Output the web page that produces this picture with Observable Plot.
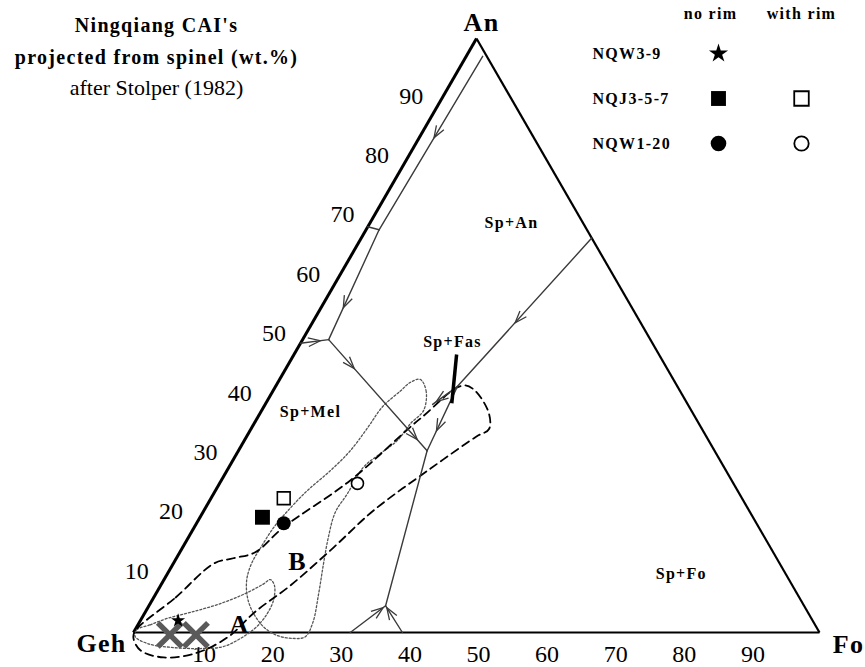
<!DOCTYPE html>
<html>
<head>
<meta charset="utf-8">
<script src="https://cdn.jsdelivr.net/npm/d3@7"></script>
<script src="https://cdn.jsdelivr.net/npm/@observablehq/plot@0.6"></script>
<style>
  body { margin: 0; background: #fff; }
  #chart svg { display: block; }
  g[font-weight="bold"] text { letter-spacing: 1.3px; }
</style>
</head>
<body>
<div id="chart"></div>
<script>
// Ternary compositions are written as [Fo, An] in wt.%; Geh = 100 - Fo - An.
const vertexNames = ["Geh", "Fo", "An"];
const vertices = [[0, 0], [100, 0], [0, 100]];
const tickValues = [10, 20, 30, 40, 50, 60, 70, 80, 90];

// Liquidus field boundaries (Stolper 1982), each from start to end point
const boundaries = [
  [[2.4, 97.0], [1.9, 67.8]],
  [[1.9, 67.8], [0, 68.3]],
  [[1.9, 67.8], [3.8, 49.3]],
  [[0, 48.7], [3.8, 49.3]],
  [[3.8, 49.3], [27.5, 30.6]],
  [[26.5, 41.4], [27.5, 30.6]],
  [[33.6, 66.4], [26.5, 41.4]],
  [[26.5, 41.4], [24.4, 38.4]],
  [[34.5, 4.5], [27.5, 30.6]],
  [[31.6, 0], [34.5, 4.5]],
  [[39.2, 0], [34.5, 4.5]]
];
// Falling-temperature arrows: [boundary index, fraction along it]
const arrowMarks = [[0, 0.47], [2, 0.71], [3, 0.7], [4, 0.26], [4, 0.9], [5, 0.69], [6, 0.57], [7, 0.85], [9, 0.93], [10, 0.93]];

// Fassaite reaction bar
const fasBar = [[23.7, 46.8], [27.1, 38.6]];

// Dashed field of CAI bulk compositions
const dashedField = [
  [0.1, 0.2], [3.2, 5.9], [5.9, 11.6], [8.3, 12.5], [11.0, 13.5], [13.0, 17.7], [18.8, 25.6],
  [23.8, 36.0], [27.6, 41.6], [32.7, 37.7], [34.7, 34.3], [33.5, 33.0], [29.5, 27.6], [24.7, 20.5],
  [22.0, 14.3], [18.9, 7.9], [16.0, 3.5], [14.2, -0.7], [11.0, -3.4], [6.5, -4.2], [2.5, -3.0], [0.5, -1.0]
];
// Dotted field B
const dottedB = [
  [20.5, 42.6], [22.3, 40.7], [23.6, 37.4], [22.8, 35.2], [22.3, 32.3], [20.9, 30.1], [19.6, 27.8],
  [19.5, 23.4], [19.3, 20.2], [20.4, 16.0], [21.9, 11.6], [23.7, 6.6], [25.3, 1.7], [25.4, -0.7],
  [23.7, -1.0], [21.2, -0.5], [18.7, 0.8], [16.1, 3.0], [13.8, 5.7], [12.1, 8.8], [11.4, 11.6],
  [11.4, 14.3], [11.6, 17.7], [12.4, 21.0], [13.4, 23.9], [15.1, 27.3], [16.3, 30.6], [16.9, 34.5],
  [17.3, 38.0], [18.6, 40.7], [19.3, 42.1]
];
// Dotted field A
const dottedA = [
  [0.2, 0.4], [1.8, 1.3], [3.8, 2.4], [6.6, 3.4], [9.9, 4.7], [12.8, 6.4], [14.8, 8.1], [15.5, 8.9],
  [16.6, 7.9], [17.7, 5.4], [17.9, 3.0], [17.4, 0.8], [16.1, -1.0], [14.2, -2.4], [11.1, -2.7],
  [6.7, -2.5], [3.1, -1.9], [0.6, -0.7]
];

// Ningqiang CAI analyses
const samples = ["NQW3-9", "NQJ3-5-7", "NQW1-20"];
const sampleSymbols = ["star", "square", "circle"];
const noRim = [
  {sample: "NQW3-9", fo: 5.5, an: 2.0},
  {sample: "NQJ3-5-7", fo: 9.1, an: 19.4},
  {sample: "NQW1-20", fo: 12.7, an: 18.4}
];
const withRim = [
  {sample: "NQJ3-5-7", fo: 10.6, an: 22.6},
  {sample: "NQW1-20", fo: 20.1, an: 25.1}
];
const crosses = [[5.5, -0.4], [9.3, -0.4]];

const fieldLabels = [
  {text: "Sp+An", fo: 20.6, an: 69.0},
  {text: "Sp+Mel", fo: 7.2, an: 37.2},
  {text: "Sp+Fas", fo: 22.0, an: 49.0},
  {text: "Sp+Fo", fo: 74.9, an: 9.9}
];
const regionLabels = [
  {text: "A", fo: 14.8, an: 1.3},
  {text: "B", fo: 17.9, an: 12.0}
];
const titleLines = ["Ningqiang CAI's", "projected from spinel (wt.%)", "after Stolper (1982)"];
const legendHeads = ["no rim", "with rim"];

// Ternary to Cartesian
const S3 = Math.sqrt(3) / 2;
const tx = d => d[0] + d[1] / 2;
const ty = d => d[1] * S3;

const serif = "'Liberation Serif', 'Times New Roman', serif";
const lineColor = "#3a3a3a";

const boundaryRows = boundaries.flatMap((seg, i) => seg.map(p => ({i, p})));
const arrowRows = arrowMarks.map(([i, t]) => {
  const [a, b] = boundaries[i];
  const p = [a[0] + t * (b[0] - a[0]), a[1] + t * (b[1] - a[1])];
  const ang = Math.atan2(-(ty(b) - ty(a)), tx(b) - tx(a)) * 180 / Math.PI;
  return {p, ang};
});

// Open arrowhead pointing along +x, tip at the origin
const chevron = {
  draw(context, size) {
    const l = Math.sqrt(size / Math.PI);
    context.moveTo(-l, -0.36 * l);
    context.lineTo(0, 0);
    context.lineTo(-l, 0.36 * l);
  }
};

const symbolOf = s => sampleSymbols[samples.indexOf(s)];
const pointSize = {star: 4.4, square: 8.4, circle: 7};
const openSize = {square: 7.2, circle: 6};
const legendSize = {star: 6, square: 8.4, circle: 7.8};
const legendOpenSize = {square: 8.2, circle: 7.2};

const marks = [];

// Triangle frame
marks.push(Plot.link([[vertices[0], vertices[2]]], {x1: d => tx(d[0]), y1: d => ty(d[0]), x2: d => tx(d[1]), y2: d => ty(d[1]), stroke: "#000", strokeWidth: 3}));
marks.push(Plot.link([[vertices[0], vertices[1]], [vertices[1], vertices[2]]], {x1: d => tx(d[0]), y1: d => ty(d[0]), x2: d => tx(d[1]), y2: d => ty(d[1]), stroke: "#000", strokeWidth: 2.2}));

// Tick labels along Geh–An and Geh–Fo
marks.push(Plot.text(tickValues, {x: v => tx([0, v]), y: v => ty([0, v]), dx: -31, dy: -2, fontSize: 24, fill: "#000"}));
marks.push(Plot.text(tickValues, {x: v => tx([v, 0]), y: v => ty([v, 0]), dx: 2, dy: 22, fontSize: 24, fill: "#000"}));

// Vertex names
const vertexOffsets = [[-32, 11], [29, 12], [5, -16]];
vertexNames.forEach((name, i) => {
  marks.push(Plot.text([name], {x: () => tx(vertices[i]), y: () => ty(vertices[i]), dx: vertexOffsets[i][0], dy: vertexOffsets[i][1], fontSize: 26, fontWeight: "bold", fill: "#000"}));
});

// Fields
marks.push(Plot.line(dottedB, {x: tx, y: ty, curve: "catmull-rom-closed", stroke: "#555", strokeWidth: 1.3, strokeDasharray: "2,2"}));
marks.push(Plot.line(dottedA, {x: tx, y: ty, curve: "catmull-rom-closed", stroke: "#555", strokeWidth: 1.3, strokeDasharray: "2,2"}));
marks.push(Plot.line(dashedField, {x: tx, y: ty, curve: "catmull-rom-closed", stroke: "#000", strokeWidth: 1.8, strokeDasharray: "8,5"}));

// Field boundaries with arrows
marks.push(Plot.line(boundaryRows, {x: d => tx(d.p), y: d => ty(d.p), z: "i", stroke: lineColor, strokeWidth: 1.4}));
marks.push(Plot.dot(arrowRows, {x: d => tx(d.p), y: d => ty(d.p), rotate: "ang", symbol: chevron, r: 12, fill: "none", stroke: lineColor, strokeWidth: 1.3}));
marks.push(Plot.link([fasBar], {x1: d => tx(d[0]), y1: d => ty(d[0]), x2: d => tx(d[1]), y2: d => ty(d[1]), stroke: "#000", strokeWidth: 3.5}));

// Crosses on the Geh–Fo join
marks.push(Plot.dot(crosses, {x: tx, y: ty, symbol: "times", r: 11, stroke: "#5a5a5a", strokeWidth: 5.5}));

// Analyses
for (const s of sampleSymbols) {
  const filled = noRim.filter(d => symbolOf(d.sample) === s);
  marks.push(Plot.dot(filled, {x: d => tx([d.fo, d.an]), y: d => ty([d.fo, d.an]), symbol: s, r: pointSize[s], fill: "#000", stroke: "none"}));
  const open = withRim.filter(d => symbolOf(d.sample) === s);
  if (open.length) marks.push(Plot.dot(open, {x: d => tx([d.fo, d.an]), y: d => ty([d.fo, d.an]), symbol: s, r: openSize[s], fill: "#fff", stroke: "#000", strokeWidth: 1.6}));
}

// Field and region labels
marks.push(Plot.text(fieldLabels, {x: d => tx([d.fo, d.an]), y: d => ty([d.fo, d.an]), text: "text", fontSize: 16, fontWeight: "bold", fill: "#000"}));
marks.push(Plot.text(regionLabels, {x: d => tx([d.fo, d.an]), y: d => ty([d.fo, d.an]), text: "text", fontSize: 26, fontWeight: "bold", fill: "#000"}));

// Title block, top left
const titleStyles = [
  {dy: -13, fontSize: 20, fontWeight: "bold"},
  {dy: 19, fontSize: 20, fontWeight: "bold"},
  {dy: 49, fontSize: 22, fontWeight: "normal"}
];
titleLines.forEach((line, i) => {
  marks.push(Plot.text([line], {frameAnchor: "top-left", dx: 23, textAnchor: "middle", lineAnchor: "middle", fill: "#000", ...titleStyles[i]}));
});

// Legend, top right
const legendCols = [585, 668];
const legendHeadCols = [577, 668];
legendHeads.forEach((h, i) => {
  marks.push(Plot.text([h], {frameAnchor: "top-left", dx: legendHeadCols[i], dy: -25, textAnchor: "middle", lineAnchor: "middle", fontSize: 16, fontWeight: "bold", fill: "#000"}));
});
samples.forEach((name, i) => {
  const dy = 15 + i * 45;
  const sym = sampleSymbols[i];
  marks.push(Plot.text([name], {frameAnchor: "top-left", dx: 459, dy, textAnchor: "start", lineAnchor: "middle", fontSize: 16, fontWeight: "bold", fill: "#000"}));
  marks.push(Plot.dot([name], {frameAnchor: "top-left", dx: legendCols[0], dy, symbol: sym, r: legendSize[sym], fill: "#000", stroke: "none"}));
  if (withRim.some(d => d.sample === name)) {
    marks.push(Plot.dot([name], {frameAnchor: "top-left", dx: legendCols[1], dy, symbol: sym, r: legendOpenSize[sym], fill: "#fff", stroke: "#000", strokeWidth: 1.8}));
  }
});

const chart = Plot.plot({
  width: 865,
  height: 667,
  marginLeft: 133,
  marginRight: 46,
  marginTop: 38,
  marginBottom: 35,
  x: {domain: [0, 100], axis: null},
  y: {domain: [0, 100 * S3], axis: null},
  style: {fontFamily: serif, background: "#fff", color: "#000", overflow: "visible"},
  marks
});
document.getElementById("chart").append(chart);
</script>
</body>
</html>
